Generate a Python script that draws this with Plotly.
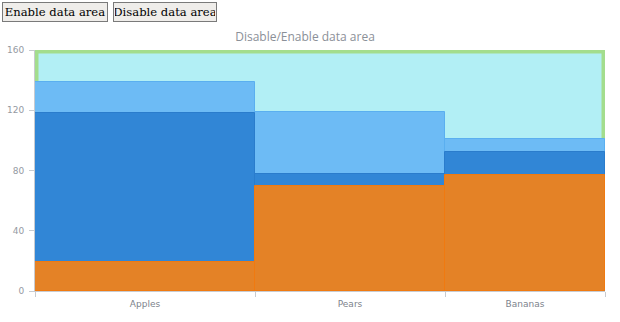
import numpy as np
import plotly.graph_objects as go

categories = ["Apples", "Pears", "Bananas"]
widths = [22, 19, 16]
series_back = [139, 119, 101]   # light blue
series_mid = [118, 78, 92]      # dark blue
series_front = [19, 70, 77]     # orange
y_ticks = [0, 40, 80, 120, 160]
y_max = 160
button_labels = ["Enable data area", "Disable data area"]

w = np.array(widths, dtype=float)
edges = np.concatenate([[0], np.cumsum(w)])
centers = edges[:-1] + w / 2

fig = go.Figure()
colors = [("#6dbbf5", "#5aaff0"), ("#3186d6", "#2a7ccc"), ("#e48226", "#f07a10")]
for vals, (c, lc) in zip([series_back, series_mid, series_front], colors):
    fig.add_trace(go.Bar(x=centers, y=vals, width=w, marker=dict(color=c, line=dict(color=lc, width=1)),
                         hoverinfo="y", showlegend=False))
fig.add_trace(go.Scatter(x=centers, y=[0, 0, 0], xaxis="x2", mode="markers",
                         marker=dict(opacity=0), hoverinfo="skip", showlegend=False))

data_area = dict(type="rect", xref="x", yref="y", x0=edges[0], x1=edges[-1], y0=0, y1=y_max,
                 fillcolor="#b2eff5", line=dict(color="#a3dd8d", width=7), layer="below")

L, R, T, B = 35, 15, 50, 31
W, H = 620, 322
pw, ph = W - L - R, H - T - B

def px_to_paper(px, py):
    return (px - L) / pw, 1 + (T - py) / ph

annotations = []
for label, left, bw in zip(button_labels, [2, 113], [106, 104]):
    ax, ay = px_to_paper(left, 2)
    annotations.append(dict(text=label, xref="paper", yref="paper", x=ax, y=ay, xanchor="left", yanchor="top",
                            showarrow=False, font=dict(family="DejaVu Serif", size=11.6, color="#000"),
                            width=bw - 4, height=16, align="center", valign="middle",
                            bgcolor="#efedea", bordercolor="#7a7a7a", borderwidth=1, borderpad=1))

fig.update_layout(
    width=W, height=H, margin=dict(l=L, r=R, t=T, b=B, autoexpand=False),
    paper_bgcolor="white", plot_bgcolor="white",
    barmode="overlay", bargap=0,
    title=dict(text="Disable/Enable data area", x=305 / W, xref="container", xanchor="center",
               y=1 - 37 / H, yanchor="middle",
               font=dict(family="Open Sans", size=12, color="#8b9098")),
    shapes=[data_area],
    annotations=annotations,
    xaxis=dict(range=[edges[0], edges[-1]], tickvals=list(edges), ticktext=["" for _ in edges],
               ticks="outside", ticklen=5, tickcolor="#c8cbd0", showgrid=False, zeroline=False,
               showline=True, linecolor="#c8cbd0", linewidth=1, fixedrange=True),
    xaxis2=dict(range=[edges[0], edges[-1]], overlaying="x", side="bottom", tickvals=list(centers),
                ticktext=categories, ticks="outside", ticklen=4, tickcolor="rgba(0,0,0,0)",
                showgrid=False, zeroline=False, showline=False,
                tickfont=dict(family="DejaVu Sans", size=9, color="#7d838c"), fixedrange=True),
    yaxis=dict(range=[0, y_max], tickvals=y_ticks, ticks="outside", ticklen=5, tickcolor="#c8cbd0",
               ticklabelstandoff=3,
               showgrid=False, zeroline=False, showline=True, linecolor="#c8cbd0", linewidth=1,
               tickfont=dict(family="DejaVu Sans", size=9, color="#959aa2"), fixedrange=True),
)

fig.write_html("out.html")
